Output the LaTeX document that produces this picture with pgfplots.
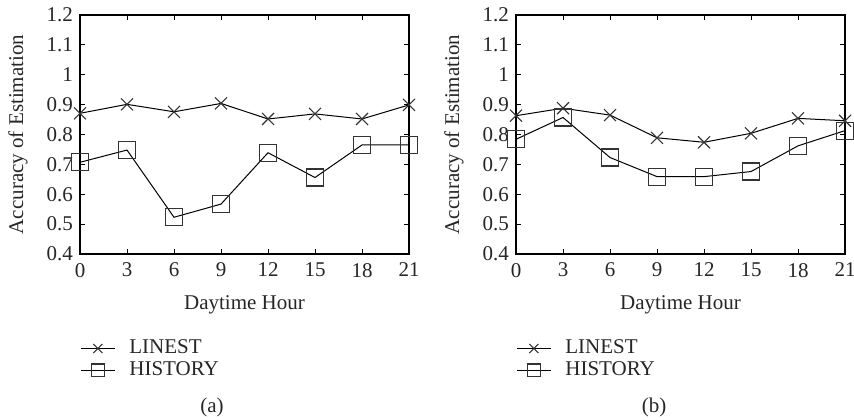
\documentclass[border=0pt]{standalone}
\usepackage{fontspec}
\setmainfont{Liberation Serif}
\usepackage{pgfplots}
\pgfplotsset{compat=1.18}
\pgfplotstableread{
h linest history
0  0.871 0.707
3  0.901 0.748
6  0.876 0.523
9  0.904 0.567
12 0.852 0.739
15 0.869 0.656
18 0.852 0.765
21 0.899 0.765
}\dataA
\pgfplotstableread{
h linest history
0  0.863 0.784
3  0.888 0.857
6  0.865 0.723
9  0.789 0.659
12 0.774 0.659
15 0.804 0.676
18 0.854 0.762
21 0.846 0.813
}\dataB
\pgfplotsset{
  myaxis/.style={
    scale only axis,
    width=164.5pt, height=119.5pt,
    anchor=south west,
    xmin=0, xmax=21, ymin=0.4, ymax=1.2,
    xtick={0,3,6,9,12,15,18,21},
    ytick={0.4,0.5,0.6,0.7,0.8,0.9,1,1.1,1.2},
    yticklabels={0.4,0.5,0.6,0.7,0.8,0.9,1,1.1,1.2},
    tick align=inside,
    major tick length=2.5pt,
    tick style={black, line width=0.5pt},
    axis line style={line width=0.6pt},
    clip=false,
    /pgf/number format/assume math mode=true,
    tick label style={font=\fontsize{10.5}{12}\selectfont, text=black!85},
    xticklabel style={yshift=-1pt},
    label style={font=\fontsize{10.5}{12}\selectfont, text=black!85},
    xlabel={Daytime Hour},
    ylabel={Accuracy of Estimation},
    xlabel style={at={(axis description cs:0.5,-0.2134)}, anchor=center},
    ylabel style={at={(axis description cs:-0.1884,0.5)}, anchor=center, rotate=0},
    legend style={at={(axis description cs:0,-0.325)}, anchor=north west, draw=none, fill=none,
      font=\fontsize{10.5}{12}\selectfont, text=black!85, row sep=-1.5pt, inner xsep=0pt,
      /tikz/every odd column/.append style={column sep=5pt}},
    legend cell align=left,
    legend image code/.code={\draw[mark repeat=2,mark phase=2,mark size=3.2pt] plot coordinates {(0pt,0pt)(8.5pt,0pt)(17pt,0pt)};},
  },
  linest/.style={black, line width=0.5pt, mark=x, mark size=4.25pt, mark options={line width=0.55pt, black!80}},
  hist/.style={black, line width=0.5pt, mark=square, mark size=4.25pt, mark options={line width=0.6pt, black!80}},
}
\begin{document}
\begin{tikzpicture}
\useasboundingbox (0,0) rectangle (427pt,209.5pt);
\begin{axis}[myaxis, at={(40pt,82.5pt)}]
\addplot[linest] table[x=h,y=linest]{\dataA};
\addlegendentry{LINEST}
\addplot[hist] table[x=h,y=history]{\dataA};
\addlegendentry{HISTORY}
\end{axis}
\begin{axis}[myaxis, at={(258pt,82.5pt)}]
\addplot[linest] table[x=h,y=linest]{\dataB};
\addlegendentry{LINEST}
\addplot[hist] table[x=h,y=history]{\dataB};
\addlegendentry{HISTORY}
\end{axis}
\node[font=\fontsize{10.5}{12}\selectfont, text=black!85] at (106pt,6pt) {(a)};
\node[font=\fontsize{10.5}{12}\selectfont, text=black!85] at (327pt,6pt) {(b)};
\end{tikzpicture}
\end{document}
